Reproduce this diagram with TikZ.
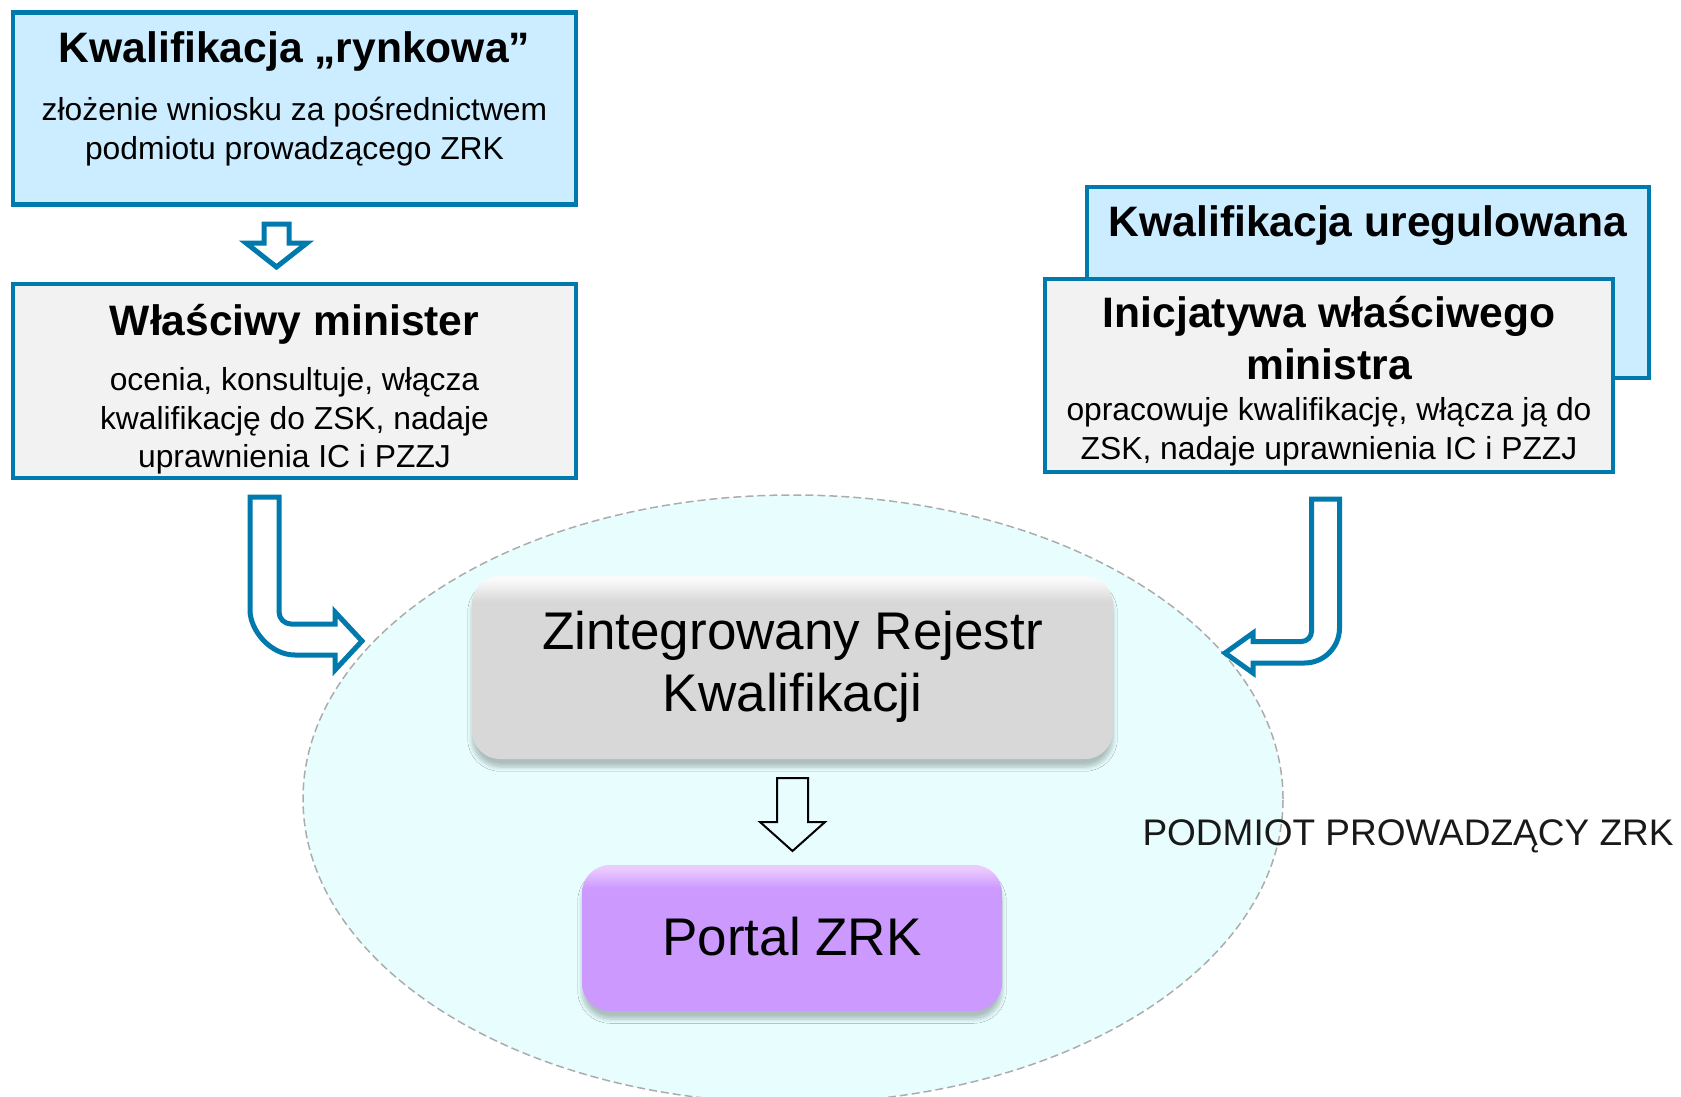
\documentclass[tikz,border=0pt]{standalone}
\usepackage{fontspec}
\setmainfont{Liberation Sans}
\usetikzlibrary{shapes.geometric,shadows.blur}
\definecolor{kblue}{RGB}{0,121,173}
\definecolor{klight}{RGB}{204,236,255}
\definecolor{kgrayfill}{RGB}{242,242,242}
\definecolor{kcyan}{RGB}{232,254,254}
\definecolor{zgray}{RGB}{216,216,216}
\definecolor{zgraytop}{RGB}{250,250,250}
\definecolor{ppurple}{RGB}{204,153,255}
\definecolor{ppurpletop}{RGB}{236,204,255}
\pgfdeclareverticalshading{zrkshade}{100bp}{color(0bp)=(zgray); color(25bp)=(zgray); color(68bp)=(zgray); color(74bp)=(zgraytop); color(100bp)=(zgraytop)}
\pgfdeclareverticalshading{portalshade}{100bp}{color(0bp)=(ppurple); color(25bp)=(ppurple); color(67bp)=(ppurple); color(74bp)=(ppurpletop); color(100bp)=(ppurpletop)}
\tikzset{
  infobox/.style={draw=kblue, line width=2.3pt, rectangle, inner sep=0pt},
  titlefont/.style={anchor=base, inner sep=0pt, font=\fontsize{21.3}{26}\selectfont\bfseries},
  bodyfont/.style={anchor=base, inner sep=0pt, font=\fontsize{15.9}{19.5}\selectfont},
  bigfont/.style={anchor=base, inner sep=0pt, font=\fontsize{26.5}{31}\selectfont},
  blockarrow/.style={draw=kblue, line width=2.5pt, fill=white, line join=miter},
  softbox/.style={rounded corners=14pt, inner sep=0pt, shade,
     blur shadow={shadow xshift=0pt, shadow yshift=-4pt, shadow blur steps=6, shadow opacity=25}},
}
\begin{document}
\begin{tikzpicture}[x=0.5pt, y=-0.5pt]
\useasboundingbox (0,0) rectangle (1681,1097);
% zone
\node[ellipse, draw=gray!65, fill=kcyan, dash pattern=on 4pt off 2pt, line width=0.75pt,
      minimum width=490pt, minimum height=304pt, inner sep=0pt] (zone) at (793,799) {};

% left column
\node[infobox, fill=klight, minimum width=281.5pt, minimum height=96pt] (box1) at (294.5,108.5) {};
\node[titlefont] (t1) at (294.5,63) {Kwalifikacja „rynkowa”};
\node[bodyfont] (b1a) at (294.5,120) {złożenie wniosku za pośrednictwem};
\node[bodyfont] (b1b) at (294.5,159) {podmiotu prowadzącego ZRK};

\draw[blockarrow] (264,224) -- (289,224) -- (289,243) -- (307,243) -- (276.5,267) -- (246,243) -- (264,243) -- cycle;

\node[infobox, fill=kgrayfill, minimum width=281.5pt, minimum height=97pt] (box2) at (294.5,381) {};
\node[titlefont] (t2) at (294.5,335) {Właściwy minister};
\node[bodyfont] (b2a) at (294.5,390) {ocenia, konsultuje, włącza};
\node[bodyfont] (b2b) at (294.5,429) {kwalifikację do ZSK, nadaje};
\node[bodyfont] (b2c) at (294.5,467) {uprawnienia IC i PZZJ};

% right column
\node[infobox, fill=klight, minimum width=281pt, minimum height=95.5pt] (box3) at (1368,282.5) {};
\node[titlefont] (t3) at (1368,236) {Kwalifikacja uregulowana};
\node[infobox, fill=kgrayfill, minimum width=284pt, minimum height=96.5pt] (box4) at (1329,375.5) {};
\node[titlefont] (t4a) at (1329,327) {Inicjatywa właściwego};
\node[titlefont] (t4b) at (1329,379) {ministra};
\node[bodyfont] (b4a) at (1329,420) {opracowuje kwalifikację, włącza ją do};
\node[bodyfont] (b4b) at (1329,459) {ZSK, nadaje uprawnienia IC i PZZJ};

% curved arrows
\draw[blockarrow] (250,497) -- (279,497) -- (279,612) .. controls (279,618.6) and (284.4,624) .. (291,624)
  -- (335,624) -- (335,612) -- (362,641) -- (335,670) -- (335,655) -- (295,655)
  .. controls (270.2,655) and (250,630.2) .. (250,610) -- cycle;
\draw[blockarrow] (1311.5,499) -- (1339.5,499) -- (1339.5,628) .. controls (1339.5,647.3) and (1323.8,663) .. (1304.5,663)
  -- (1253,663) -- (1253,673) -- (1225,653) -- (1253,633) -- (1253,641.5) -- (1301.5,641.5)
  .. controls (1307,641.5) and (1311.5,637) .. (1311.5,631.5) -- cycle;

% central boxes
\node[softbox, shading=zrkshade, minimum width=320.5pt, minimum height=91.5pt] (zrk) at (792.5,667.5) {};
\node[bigfont] (z1) at (792.5,649) {Zintegrowany Rejestr};
\node[bigfont] (z2) at (792.5,711) {Kwalifikacji};

\draw[line width=1pt, line join=miter] (777,778) -- (808,778) -- (808,822) -- (825,822) -- (792.5,851) -- (760,822) -- (777,822) -- cycle;

\node[softbox, shading=portalshade, minimum width=210pt, minimum height=73pt] (portal) at (792,938) {};
\node[bigfont] (p1) at (792,955) {Portal ZRK};

\node[anchor=base, inner sep=0pt, text={rgb,255:red,25;green,25;blue,25}, font=\fontsize{18.5}{22}\selectfont] (lbl) at (1408,845) {PODMIOT PROWADZĄCY ZRK};
\end{tikzpicture}
\end{document}
